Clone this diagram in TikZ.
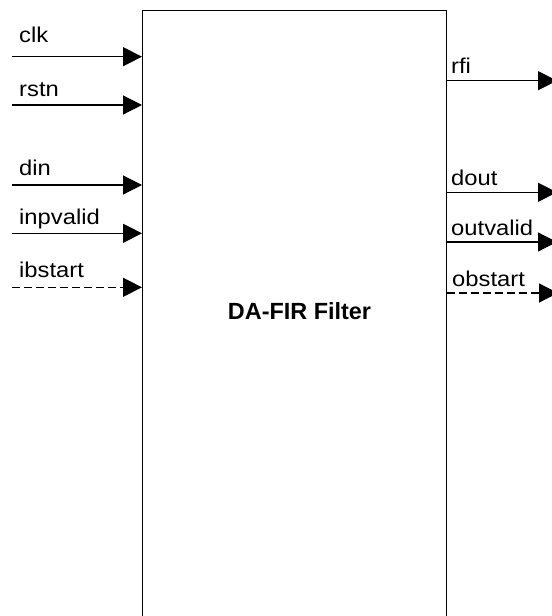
\documentclass[tikz,border=0pt]{standalone}
\usepackage{fontspec}
\setmainfont{Liberation Sans}
\newfontfamily\sigfont[FakeStretch=1.11]{Liberation Sans}
\usetikzlibrary{arrows.meta}
\begin{document}
\begin{tikzpicture}[x=1bp,y=-1bp,>={Triangle[length=19bp,width=19bp]},
  sig/.style={line width=1.2bp},
  lbl/.style={anchor=base west,inner sep=0pt,font=\sigfont\fontsize{21.5}{21.5}\selectfont}]
\useasboundingbox (0,0) rectangle (552,616);
\clip (0,0) rectangle (552,616);
\node [draw,line width=1.4bp,minimum width=304bp,minimum height=640bp,anchor=north west,inner sep=0pt] (filter) at (142,10) {};
\node [font=\fontsize{23.5}{23.5}\selectfont\bfseries] (title) at (299.5,311) {DA-FIR Filter};

% inputs
\foreach \y/\ly/\name in {56.7/42.5/clk,105/97/rstn,185/176/din,233.3/224/inpvalid}{
  \coordinate (\name) at (12,\y);
  \draw [sig,->] (\name) -- (\name -| filter.west);
  \node [lbl] (\name-l) at (19,\ly) {\name};
}
\coordinate (ibstart) at (12,287.3);
\draw [sig,->,dash pattern=on 8bp off 4bp] (ibstart) -- (ibstart -| filter.west);
\node [lbl] (ibstart-l) at (19,277) {ibstart};

% outputs
\foreach \y/\ly/\name in {80.7/73.3/rfi,192.3/185/dout,242/235/outvalid}{
  \coordinate (\name) at (557,\y);
  \draw [sig,->] (\name -| filter.east) -- (\name);
  \node [lbl] (\name-l) at (451,\ly) {\name};
}
\coordinate (obstart) at (558,293);
\draw [sig,->,dash pattern=on 8bp off 4bp] (obstart -| filter.east) -- (obstart);
\node [lbl] (obstart-l) at (452,286) {obstart};

\end{tikzpicture}
\end{document}
